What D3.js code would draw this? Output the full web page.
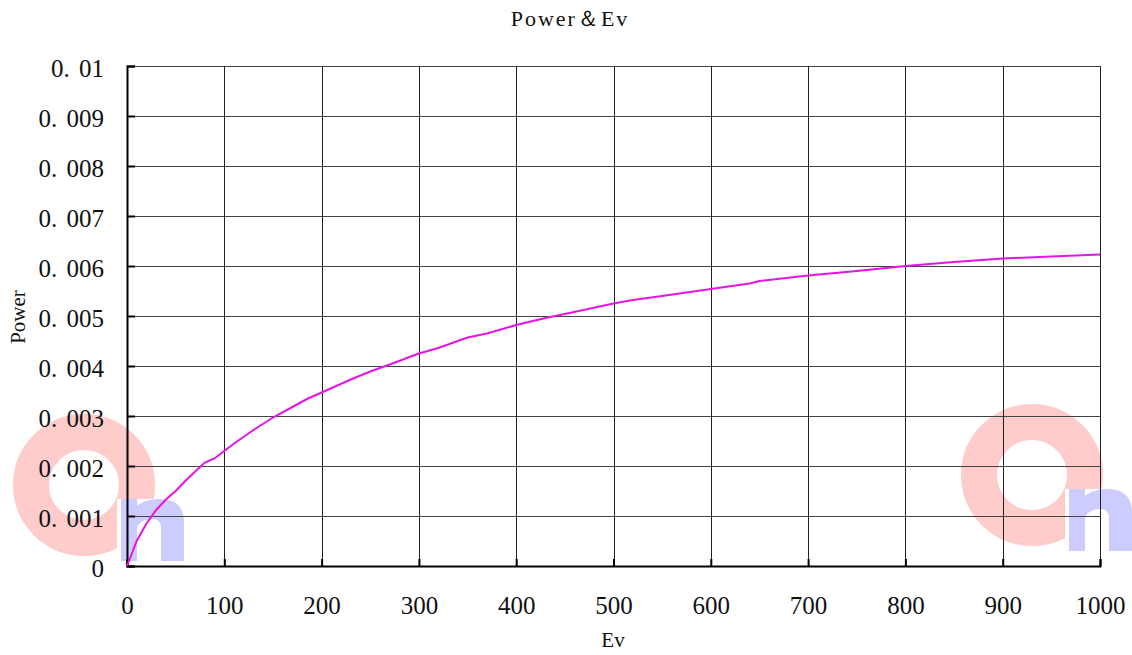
<!DOCTYPE html>
<html>
<head>
<meta charset="utf-8">
<script src="https://cdn.jsdelivr.net/npm/d3@7/dist/d3.min.js"></script>
<style>
  html, body { margin: 0; padding: 0; background: #fff; }
  svg { display: block; }
</style>
</head>
<body>
<script>
// Values
const evValues = [0, 5, 10, 20, 30, 40, 50, 60, 70, 80, 90, 100, 110, 130, 150, 170, 185, 200,
  230, 250, 270, 300, 320, 350, 370, 400, 430, 450, 500, 520, 550, 600, 640, 650, 700, 750,
  800, 850, 900, 950, 1000];
const powerValues = [0, 0.00025, 0.0005, 0.00085, 0.00112, 0.00133, 0.0015, 0.0017, 0.00189,
  0.00207, 0.00215, 0.0023, 0.00245, 0.00272, 0.00297, 0.00318, 0.00334, 0.00347,
  0.00373, 0.00389, 0.00403, 0.00425, 0.00436, 0.00457, 0.00465, 0.00482, 0.00496, 0.00504,
  0.00525, 0.00532, 0.0054, 0.00554, 0.00565, 0.0057, 0.00581, 0.0059,
  0.006, 0.00608, 0.00615, 0.00619, 0.00623];
const xTicks = [0, 100, 200, 300, 400, 500, 600, 700, 800, 900, 1000];
const yTicks = [0, 0.001, 0.002, 0.003, 0.004, 0.005, 0.006, 0.007, 0.008, 0.009, 0.01];
const yTickLabels = ['0', '0. 001', '0. 002', '0. 003', '0. 004', '0. 005', '0. 006', '0. 007', '0. 008', '0. 009', '0. 01'];

const width = 1132, height = 655;
const margin = {top: 66, right: 32, bottom: 89, left: 127};
const serif = '"Liberation Serif", "DejaVu Serif", serif';

const svg = d3.select('body').append('svg')
  .attr('width', width)
  .attr('height', height);

const x = d3.scaleLinear().domain([0, 1000]).range([margin.left, width - margin.right]);
const y = d3.scaleLinear().domain([0, 0.01]).range([height - margin.bottom, margin.top]);

// watermarks (drawn underneath everything): pink ring + blue "n" shape
const nShape = 'M0,0 H16 V7 C22,2 30,0 38,0 C55,0 63,8 63,24 V62 H40 V29 ' +
  'C40,23 37,20 31,20 C23,20 16,24 16,31 V62 H0 Z';
function watermark(cx, cy) {
  const g = svg.append('g');
  g.append('circle')
    .attr('cx', cx).attr('cy', cy).attr('r', 53)
    .attr('fill', 'none')
    .attr('stroke', '#ffcccc')
    .attr('stroke-width', 36);
  g.append('rect')
    .attr('x', cx + 33).attr('y', cy + 14)
    .attr('width', 75).attr('height', 66)
    .attr('fill', '#fff');
  g.append('path')
    .attr('transform', `translate(${cx + 37},${cy + 14})`)
    .attr('d', nShape)
    .attr('fill', '#ccccff');
}
watermark(84, 485);
watermark(1032, 475);

// grid
svg.append('g').selectAll('line.h')
  .data(yTicks)
  .enter().append('line')
  .attr('x1', margin.left).attr('x2', width - margin.right)
  .attr('y1', d => Math.round(y(d)) + 0.5).attr('y2', d => Math.round(y(d)) + 0.5)
  .attr('stroke', '#444').attr('stroke-width', 1);

svg.append('g').selectAll('line.v')
  .data(xTicks)
  .enter().append('line')
  .attr('x1', d => Math.round(x(d)) + 0.5).attr('x2', d => Math.round(x(d)) + 0.5)
  .attr('y1', margin.top).attr('y2', height - margin.bottom)
  .attr('stroke', '#222').attr('stroke-width', 1);

// axes with short inward ticks
const xAxis = svg.append('g')
  .attr('transform', `translate(0,${height - margin.bottom})`)
  .call(d3.axisBottom(x).tickValues(xTicks).tickSize(-7).tickPadding(45).tickFormat(d3.format('d')));
const yAxis = svg.append('g')
  .attr('transform', `translate(${margin.left},0)`)
  .call(d3.axisLeft(y).tickValues(yTicks).tickSize(-8).tickPadding(23).tickFormat((d, i) => yTickLabels[i]));

[xAxis, yAxis].forEach(a => {
  a.select('.domain').attr('stroke', '#000').attr('stroke-width', 2);
  a.selectAll('.tick line').attr('stroke', '#000').attr('stroke-width', 2);
  a.selectAll('text')
    .style('font-family', serif)
    .style('font-size', '25px')
    .style('word-spacing', '3px')
    .attr('fill', '#111');
});
yAxis.selectAll('text').attr('dy', '0.42em');
xAxis.selectAll('text').attr('dy', '0.1em');

// line
const line = d3.line()
  .x((d, i) => x(evValues[i]))
  .y(d => y(d));

svg.append('path')
  .datum(powerValues)
  .attr('d', line)
  .attr('fill', 'none')
  .attr('stroke', '#e614e6')
  .attr('stroke-width', 2);

// titles
svg.append('text')
  .attr('x', 570).attr('y', 26)
  .attr('text-anchor', 'middle')
  .style('font-family', serif)
  .style('font-size', '22px')
  .style('letter-spacing', '2px')
  .attr('fill', '#111')
  .text('Power＆Ev');

svg.append('text')
  .attr('x', 613).attr('y', 647)
  .attr('text-anchor', 'middle')
  .style('font-family', serif)
  .style('font-size', '21px')
  .attr('fill', '#111')
  .text('Ev');

svg.append('text')
  .attr('transform', 'translate(25,317) rotate(-90)')
  .attr('text-anchor', 'middle')
  .style('font-family', serif)
  .style('font-size', '21px')
  .attr('fill', '#111')
  .text('Power');
</script>
</body>
</html>
